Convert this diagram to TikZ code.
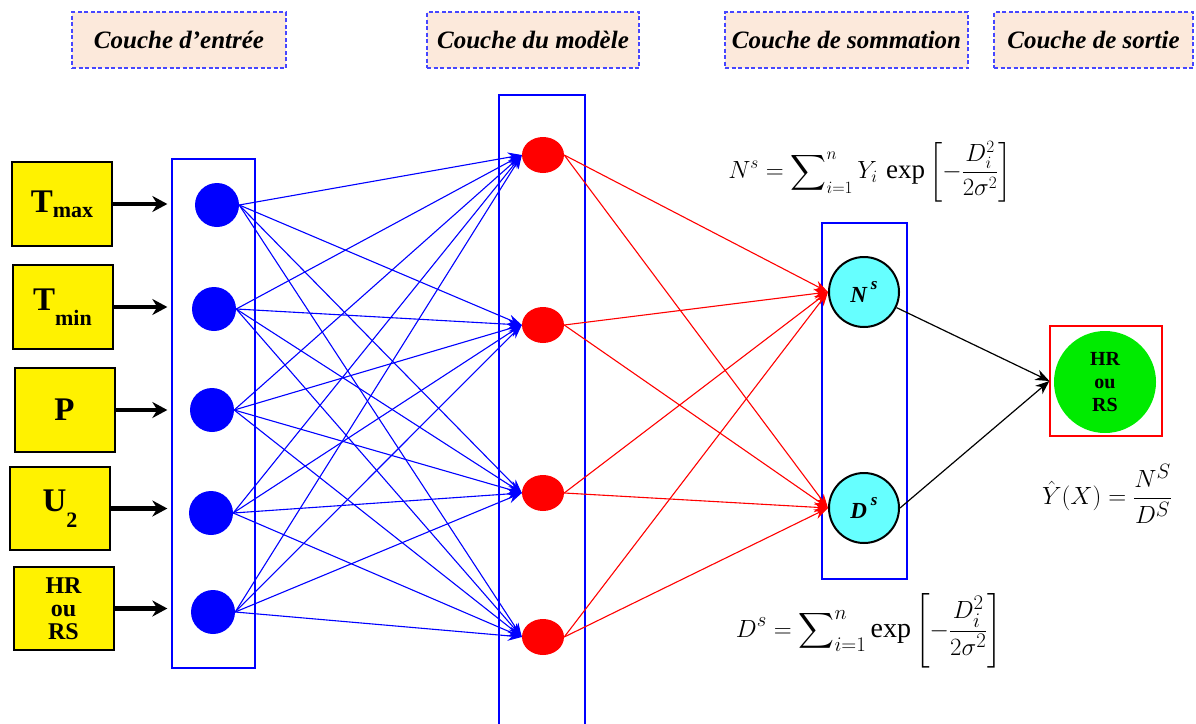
\documentclass[tikz,border=0pt]{standalone}
\usepackage{amsmath}
\usepackage{fontspec}
\setmainfont{Liberation Serif}
\usetikzlibrary{shapes.geometric,arrows.meta}
\definecolor{hblue}{RGB}{70,70,255}
\definecolor{peach}{RGB}{252,233,219}
\definecolor{scyan}{RGB}{102,255,255}
\definecolor{ogreen}{RGB}{0,235,0}
\begin{document}
\begin{tikzpicture}[x=1pt,y=-1pt,
  hdr/.style={draw=hblue, dash pattern=on 4pt off 2.5pt, fill=peach, line width=1.2pt, inner sep=0pt,
    font=\fontsize{25}{28}\selectfont\bfseries\itshape},
  inbox/.style={draw=black, line width=2pt, fill=yellow, inner sep=0pt, minimum width=100pt, minimum height=84pt,
    font=\fontsize{33}{33}\selectfont\bfseries, align=center},
  layer/.style={draw=blue, line width=1.3pt, inner sep=0pt},
  incirc/.style={circle, fill=blue, minimum size=44pt, inner sep=0pt},
  mcirc/.style={ellipse, fill=red, minimum width=42pt, minimum height=36pt, inner sep=0pt},
  snode/.style={circle, draw=black, line width=2pt, fill=scyan, minimum size=70pt, inner sep=0pt,
    font=\fontsize{23}{23}\selectfont\bfseries\itshape},
  inarr/.style={line width=4.5pt, -{Stealth[length=15pt,width=16pt]}, shorten >=4pt},
  bl/.style={blue, line width=1.1pt, -{Stealth[length=14pt,width=10pt]}},
  rl/.style={red, line width=1.1pt, -{Stealth[length=14pt,width=10pt]}},
  kl/.style={black, line width=1.2pt, -{Stealth[length=14pt,width=11pt]}}
]
\useasboundingbox (0,0) rectangle (1196,723);

% headers
\node[hdr, minimum width=214pt, minimum height=56pt] (h1) at (179,40) {Couche d'entrée};
\node[hdr, minimum width=212pt, minimum height=56pt] (h2) at (533,40) {Couche du modèle};
\node[hdr, minimum width=243pt, minimum height=56pt] (h3) at (846.5,40) {Couche de sommation};
\node[hdr, minimum width=199pt, minimum height=56pt] (h4) at (1093.5,40) {Couche de sortie};

% layer frames
\node[layer, minimum width=83pt, minimum height=509pt] (inrect) at (213.5,413.5) {};
\node[layer, minimum width=86pt, minimum height=640pt] (mrect) at (542,415) {};
\node[layer, minimum width=85pt, minimum height=356pt] (srect) at (864.5,401) {};
\node[draw=red, line width=1.2pt, inner sep=0pt, minimum width=112pt, minimum height=110pt] (orect) at (1106,381) {};

% input boxes
\node[inbox] (t1) at (62,204) {T\raisebox{-0.15em}{\fontsize{22}{22}\selectfont max}};
\node[inbox] (t2) at (62.5,307) {T\raisebox{-0.45em}{\fontsize{22}{22}\selectfont min}};
\node[inbox] (t3) at (64.5,410) {P};
\node[inbox, minimum height=83pt] (t4) at (60,508.5) {U\raisebox{-0.5em}{\fontsize{22}{22}\selectfont 2}};
\node[inbox, minimum height=83pt, font=\fontsize{24}{23}\selectfont\bfseries] (t5) at (63.5,608.5) {HR\\ou\\RS};

% input neurons
\node[incirc] (i1) at (217,205) {};
\node[incirc] (i2) at (214,309) {};
\node[incirc] (i3) at (212,410) {};
\node[incirc] (i4) at (211,513) {};
\node[incirc] (i5) at (213,612) {};

% model neurons
\node[mcirc] (m1) at (543,155) {};
\node[mcirc] (m2) at (543,325) {};
\node[mcirc] (m3) at (543,493) {};
\node[mcirc] (m4) at (543,637) {};

% summation neurons
\node[snode] (N) at (864,292) {N\,\raisebox{0.55em}{\fontsize{17}{17}\selectfont s}};
\node[snode] (D) at (864,508) {D\,\raisebox{0.55em}{\fontsize{17}{17}\selectfont s}};

% output
\node[circle, fill=ogreen, minimum size=102pt, inner sep=0pt, align=center,
  font=\fontsize{20}{23}\selectfont\bfseries] (o) at (1105,382) {HR\\ou\\RS};

% input arrows
\foreach \k in {1,...,5} {
  \draw[inarr] (t\k.east) -- (t\k.east -| inrect.west);
}
% blue connections
\foreach \a in {1,...,5} {
  \foreach \b in {1,...,4} {
    \draw[bl] (i\a.east) -- (m\b.west);
  }
}
% red connections
\foreach \b in {1,...,4} {
  \draw[rl] (m\b.east) -- (N.west);
  \draw[rl] (m\b.east) -- (D.west);
}
% black connections
\draw[kl] (N) -- (orect.west);
\draw[kl] (D.east) -- (orect.west);

% formulas
\node[inner sep=0pt, font=\fontsize{27}{30}\selectfont] (fN) at (870,172)
  {$\displaystyle N^{s}=\sum\nolimits_{i=1}^{n} Y_i\,\exp\left[-\frac{D_i^2}{2\sigma^2}\right]$};
\node[inner sep=0pt, font=\fontsize{28}{30}\selectfont] (fD) at (869,631)
  {$\displaystyle D^{s}=\sum\nolimits_{i=1}^{n} \exp\left[-\frac{D_i^2}{2\sigma^2}\right]$};
\node[inner sep=0pt, font=\fontsize{31}{34}\selectfont] (fY) at (1107,494)
  {$\displaystyle \hat{Y}(X)=\frac{N^{S}}{D^{S}}$};
\end{tikzpicture}
\end{document}
